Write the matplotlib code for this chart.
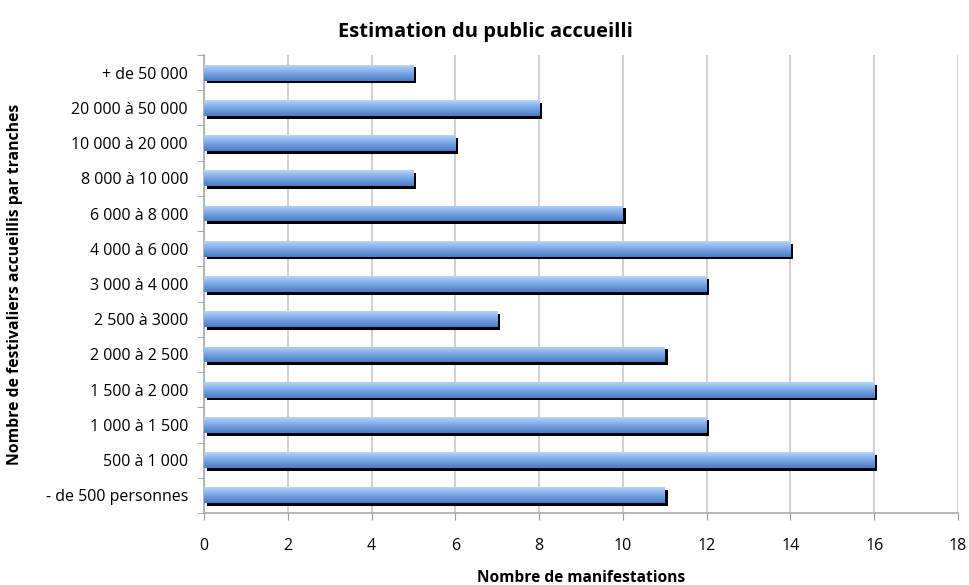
import numpy as np
import matplotlib
matplotlib.use('Agg')
import matplotlib.pyplot as plt
import matplotlib.patheffects as pe
from matplotlib.colors import LinearSegmentedColormap

categories = ['- de 500 personnes', '500 à 1 000', '1 000 à 1 500', '1 500 à 2 000',
              '2 000 à 2 500', '2 500 à 3000', '3 000 à 4 000', '4 000 à 6 000',
              '6 000 à 8 000', '8 000 à 10 000', '10 000 à 20 000', '20 000 à 50 000',
              '+ de 50 000']
values = [11, 16, 12, 16, 11, 7, 12, 14, 10, 5, 6, 8, 5]
x_ticks = [0, 2, 4, 6, 8, 10, 12, 14, 16, 18]

plt.rcParams['font.family'] = ['Open Sans', 'DejaVu Sans']

fig = plt.figure(figsize=(9.7, 5.85), dpi=100)
ax = fig.add_axes([0.2103, 0.1231, 0.7773, 0.7829])

y = np.arange(len(categories))
bars = ax.barh(y, values, height=0.45, color='#6f9fe0', zorder=3,
               path_effects=[pe.SimplePatchShadow(offset=(2, -2), shadow_rgbFace='black', alpha=1.0),
                             pe.Normal()])

# gradient fill clipped to each bar
cmap = LinearSegmentedColormap.from_list('bar', ['#4a7cc6', '#78a6e6', '#b8d4f7'])
grad = np.linspace(0, 1, 64).reshape(-1, 1)
for b in bars:
    x0, y0 = b.get_x(), b.get_y()
    w, h = b.get_width(), b.get_height()
    im = ax.imshow(grad, cmap=cmap, aspect='auto', origin='lower',
                   extent=(x0, x0 + w, y0, y0 + h), zorder=4)
    im.set_clip_path(b)

ax.set_xlim(0, 18)
ax.set_ylim(-0.5, len(categories) - 0.5)
ax.set_xticks(x_ticks)
ax.set_yticks(y)
ax.set_yticklabels(categories)
ax.set_yticks(np.arange(-0.5, len(categories), 1), minor=True)
ax.tick_params(axis='y', which='major', length=0, labelsize=11.5, pad=11.5)
ax.tick_params(axis='y', which='minor', length=5, color='#999999')
ax.tick_params(axis='x', length=5, color='#999999', labelsize=11.5, pad=13)

ax.grid(axis='x', color='#c8c8c8', linewidth=1.2, zorder=0)
ax.set_axisbelow(True)
for s in ['top', 'right']:
    ax.spines[s].set_visible(False)
for s in ['left', 'bottom']:
    ax.spines[s].set_color('#aaaaaa')
    ax.spines[s].set_linewidth(1.2)

fig.suptitle('Estimation du public accueilli', x=0.5, y=0.963, fontsize=14.5, fontweight='bold')
ax.set_xlabel('Nombre de manifestations', fontsize=11.2, fontweight='bold')
ax.xaxis.set_label_coords(0.5, -0.125)
ax.set_ylabel('Nombre de festivaliers accueillis par tranches', fontsize=11.3,
              fontweight='bold')
ax.yaxis.set_label_coords(-0.24, 0.5)

fig.savefig('out.png', dpi=100)
